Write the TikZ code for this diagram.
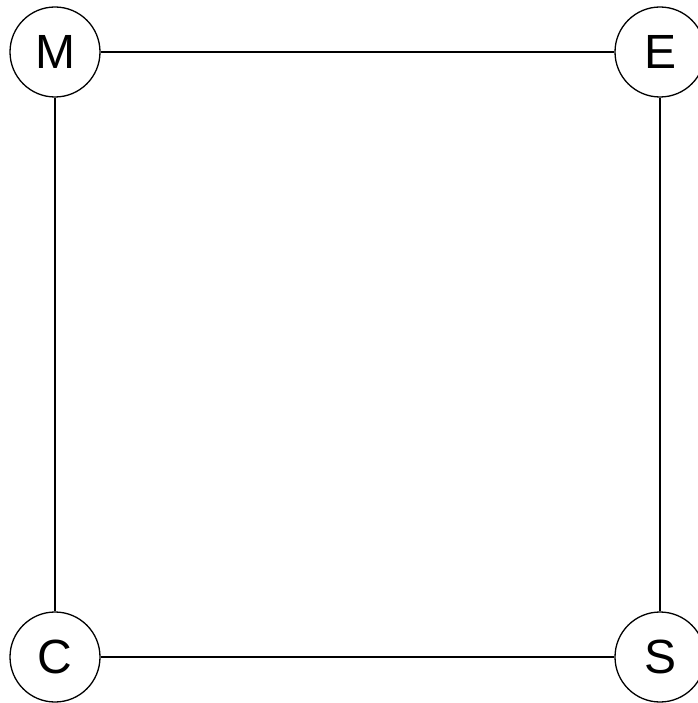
\documentclass[tikz,border=0pt]{standalone}
\usepackage{fontspec}
\setmainfont{Liberation Sans}
\begin{document}
\begin{tikzpicture}[x=1pt,y=-1pt,
  vtx/.style={draw, circle, line width=1.3pt, minimum size=90pt, inner sep=0pt, font=\fontsize{48}{48}\selectfont},
  edge/.style={line width=1.3pt}]
\useasboundingbox (0,0) rectangle (697,703);
\node[vtx] (M) at (55,52) {M};
\node[vtx] (E) at (660,52) {E};
\node[vtx] (C) at (55,657) {C};
\node[vtx] (S) at (660,657) {S};
\draw[edge] (M) -- (E);
\draw[edge] (M) -- (C);
\draw[edge] (E) -- (S);
\draw[edge] (C) -- (S);
\end{tikzpicture}
\end{document}
